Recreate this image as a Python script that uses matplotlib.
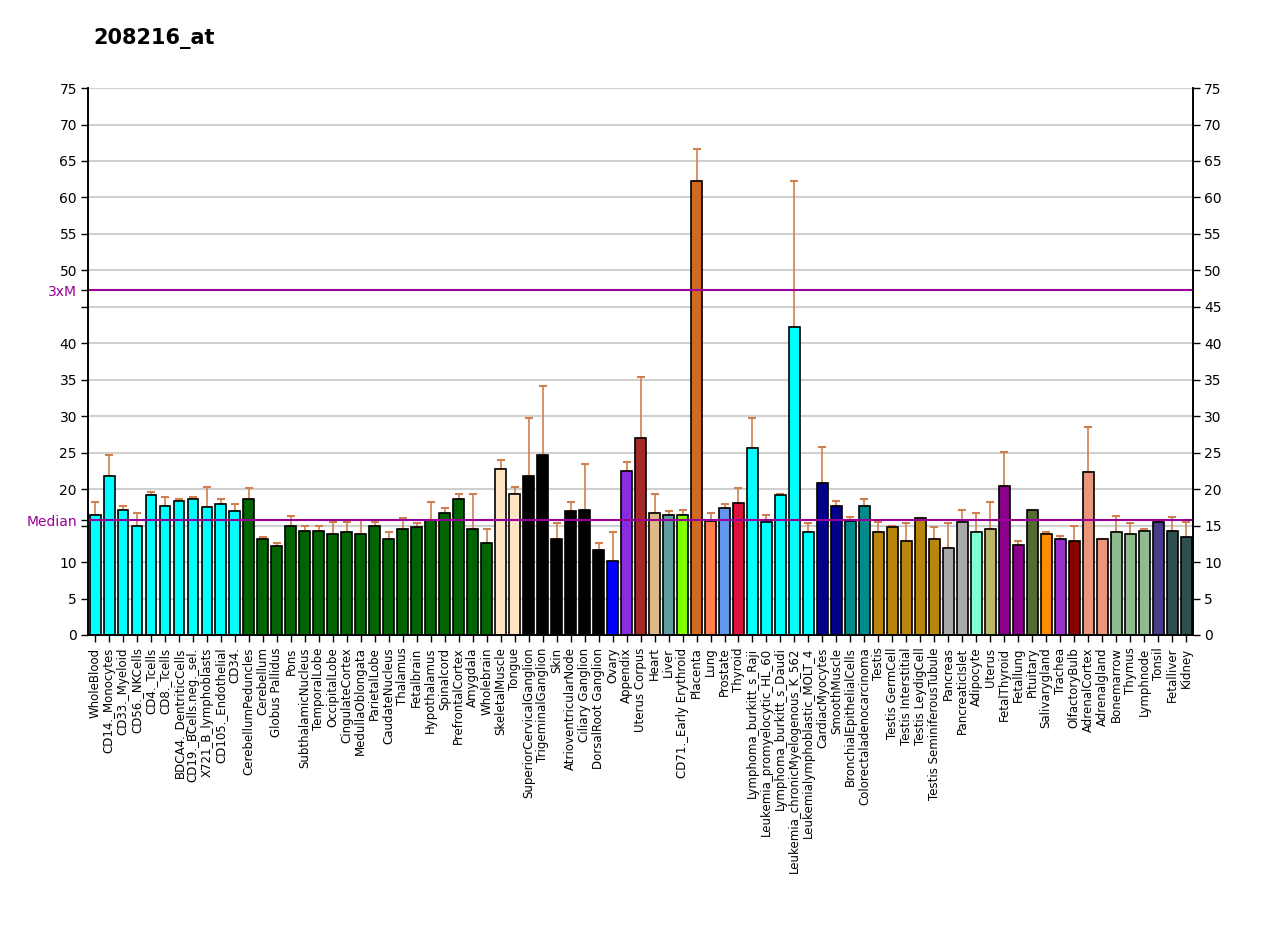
import matplotlib
matplotlib.use("Agg")
import matplotlib.pyplot as plt
import numpy as np

title = "208216_at"

categories = [
    "WholeBlood", "CD14._Monocytes", "CD33._Myeloid", "CD56._NKCells", "CD4._Tcells",
    "CD8._Tcells", "BDCA4._DentriticCells", "CD19._BCells.neg._sel.", "X721_B_lymphoblasts",
    "CD105._Endothelial", "CD34.", "CerebellumPeduncles", "Cerebellum", "Globus Pallidus",
    "Pons", "SubthalamicNucleus", "TemporalLobe", "OccipitalLobe", "CingulateCortex",
    "MedullaOblongata", "ParietalLobe", "CaudateNucleus", "Thalamus", "Fetalbrain",
    "Hypothalamus", "Spinalcord", "PrefrontalCortex", "Amygdala", "Wholebrain",
    "SkeletalMuscle", "Tongue", "SuperiorCervicalGanglion", "TrigeminalGanglion", "Skin",
    "AtrioventricularNode", "Ciliary Ganglion", "DorsalRoot Ganglion", "Ovary", "Appendix",
    "Uterus Corpus", "Heart", "Liver", "CD71._Early Erythroid", "Placenta", "Lung",
    "Prostate", "Thyroid", "Lymphoma_burkitt_s_Raji", "Leukemia_promyelocytic_HL_60",
    "Lymphoma_burkitt_s_Daudi", "Leukemia_chronicMyelogenous_K_562",
    "Leukemialymphoblastic_MOLT_4", "CardiacMyocytes", "SmoothMuscle",
    "BronchialEpithelialCells", "Colorectaladenocarcinoma", "Testis", "Testis GermCell",
    "Testis Interstitial", "Testis LeydigCell", "Testis SeminiferousTubule", "Pancreas",
    "PancreaticIslet", "Adipocyte", "Uterus", "FetalThyroid", "Fetallung", "Pituitary",
    "Salivarygland", "Trachea", "OlfactoryBulb", "AdrenalCortex", "Adrenalgland",
    "Bonemarrow", "Thymus", "Lymphnode", "Tonsil", "Fetalliver", "Kidney",
]

values = [
    16.45, 21.8, 17.2, 15.0, 19.15, 17.7, 18.4, 18.6, 17.5, 17.9, 16.95,
    18.65, 13.1, 12.2, 15.0, 14.3, 14.3, 13.85, 14.1, 13.85, 15.0, 13.1,
    14.5, 14.8, 15.8, 16.7, 18.65, 14.5, 12.6,
    22.7, 19.4, 21.8, 24.7, 13.15, 17.0, 17.2, 11.65, 10.2, 22.5, 27.0,
    16.7, 16.45, 16.45, 62.25, 15.7, 17.45, 18.15, 25.6, 15.55, 19.15, 42.3, 14.1,
    20.8, 17.7, 15.7, 17.7, 14.1, 14.8, 12.9, 16.0, 13.1, 11.9, 15.55, 14.1, 14.6,
    20.5, 12.4, 17.2, 13.85, 13.1, 12.9, 22.3, 13.1, 14.1, 13.85, 14.3, 15.55, 14.3, 13.4,
]

upper = [
    18.2, 24.7, 17.7, 16.7, 19.6, 18.9, 18.6, 18.9, 20.3, 18.7, 17.9,
    20.1, 13.4, 12.6, 16.3, 15.0, 15.0, 15.5, 15.5, 15.8, 15.5, 14.1,
    16.0, 15.3, 18.2, 17.45, 19.4, 19.4, 14.6,
    23.95, 20.3, 29.7, 34.1, 15.3, 18.2, 23.5, 12.6, 14.1, 23.7, 35.4,
    19.4, 17.0, 17.2, 66.6, 16.7, 17.95, 20.1, 29.7, 16.5, 19.4, 62.25, 15.3,
    25.8, 18.4, 16.2, 18.65, 15.5, 15.0, 15.3, 16.0, 14.8, 15.3, 17.2, 16.7, 18.2,
    25.1, 12.9, 17.2, 14.1, 13.6, 15.0, 28.5, 13.1, 16.3, 15.3, 14.5, 15.55, 16.2, 15.5,
]

colors = (
    ["#00FFFF"] * 11 + ["#006400"] * 18 + ["#FFE4C4"] * 2 + ["#000000"] * 6 +
    ["#0000FF", "#8A2BE2", "#A52A2A", "#DEB887", "#5F9EA0", "#7FFF00", "#D2691E",
     "#FF7F50", "#6495ED", "#DC143C"] +
    ["#00FFFF"] * 5 + ["#00008B"] * 2 + ["#008B8B"] * 2 + ["#B8860B"] * 5 +
    ["#A9A9A9"] * 2 + ["#7FFFD4", "#BDB76B"] + ["#8B008B"] * 2 +
    ["#556B2F", "#FF8C00", "#9932CC", "#8B0000"] + ["#E9967A"] * 2 +
    ["#8FBC8F"] * 3 + ["#483D8B"] + ["#2F4F4F"] * 2
)

median = 15.75
three_m = 47.25

fig = plt.figure(figsize=(12.8, 9.27), dpi=100)
ax = fig.add_axes([0.0688, 0.315, 0.8633, 0.590])

x = np.arange(len(categories))
vals = np.array(values)
ups = np.array(upper)

ax.set_axisbelow(True)
for g in np.arange(5, 80, 5):
    ax.axhline(g, color="#d0d0d0", lw=1.5, zorder=0)

ax.bar(x, vals, width=0.78, color=colors, edgecolor="black", linewidth=1.2, zorder=2)
ax.errorbar(x, vals, yerr=[np.zeros_like(vals), ups - vals], fmt="none",
            ecolor="#D08050", elinewidth=1.2, capsize=3, capthick=1.5, zorder=1)

ax.axhline(median, color="#990099", lw=1.5, zorder=3)
ax.axhline(three_m, color="#990099", lw=1.5, zorder=3)

ax.set_xlim(-0.5, len(categories) - 0.5)
ax.set_ylim(0, 75)

yt = list(np.arange(0, 80, 5))
left_ticks = yt + [median, three_m]
left_labels = ["" if v in (15, 45) else str(v) for v in yt] + ["Median", "3xM"]
ax.set_yticks(left_ticks)
ax.set_yticklabels(left_labels, fontsize=10)
for lbl in ax.get_yticklabels()[-2:]:
    lbl.set_color("#990099")

ax.set_xticks(x)
ax.set_xticklabels(categories, rotation=90, fontsize=8.5, va="top", ha="center")
ax.tick_params(axis="x", length=5, width=1, pad=4)
ax.tick_params(axis="y", length=5, width=1, pad=3)

ax2 = ax.twinx()
ax2.set_ylim(0, 75)
ax2.set_yticks(yt)
ax2.set_yticklabels([str(v) for v in yt], fontsize=10)
ax2.tick_params(axis="y", length=5, width=1, pad=3)

for a in (ax, ax2):
    a.spines["top"].set_visible(False)
    a.spines["left"].set_linewidth(1.2)
    a.spines["right"].set_linewidth(1.2)
    a.spines["bottom"].set_linewidth(1.2)

fig.text(0.073, 0.958, title, fontsize=15, fontweight="bold", ha="left", va="center")

fig.savefig("out.png", dpi=100, facecolor="white")
